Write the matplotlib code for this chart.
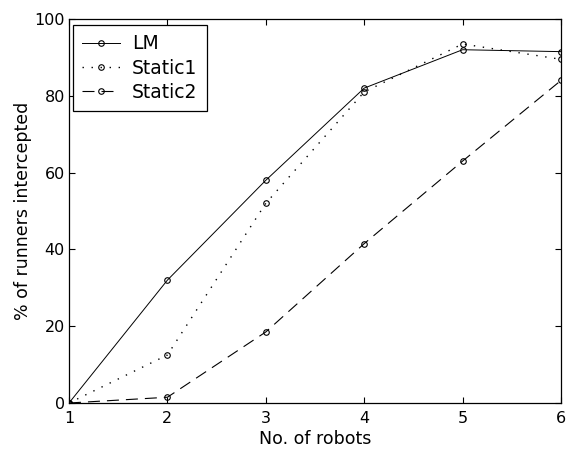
import matplotlib
matplotlib.use("Agg")
import matplotlib.pyplot as plt

plt.rcParams['font.family'] = ['DejaVu Sans']
plt.rcParams['font.size'] = 12.5

robots = [1, 2, 3, 4, 5, 6]
lm = [0, 32, 58, 82, 92, 91.5]
static1 = [0, 12.5, 52, 81, 93.5, 89.5]
static2 = [0, 1.5, 18.5, 41.5, 63, 84]

fig = plt.figure(figsize=(5.67, 4.54), dpi=100)
# axes box in figure fractions (left, bottom, width, height)
ax = fig.add_axes([69 / 567, 51 / 454, 492 / 567, 384 / 454])

mk = dict(marker='o', markersize=4, markerfacecolor='none', markeredgecolor='black', markeredgewidth=0.8)
ax.plot(robots, lm, '-', color='black', linewidth=0.7, label='LM', **mk)
ax.plot(robots, static1, color='black', linewidth=1.0, linestyle=(0, (1, 5.5)), label='Static1', **mk)
ax.plot(robots, static2, color='black', linewidth=0.8, linestyle=(0, (10.8, 6.3)), label='Static2', **mk)

ax.set_xlim(1, 6)
ax.set_ylim(0, 100)
ax.set_xticks(robots)
ax.set_yticks([0, 20, 40, 60, 80, 100])
ax.tick_params(direction='in', top=True, right=True, length=4, width=0.8, labelsize=11.5)
ax.tick_params(axis='x', pad=6)
ax.tick_params(axis='y', pad=3)
for s in ax.spines.values():
    s.set_linewidth(0.9)

ax.set_xlabel('No. of robots', labelpad=3)
ax.set_ylabel('% of runners intercepted', labelpad=2)

leg = ax.legend(loc='upper left', bbox_to_anchor=(4 / 492, 1 - 6 / 384), borderaxespad=0,
                fancybox=False, edgecolor='black', framealpha=1, fontsize=13.5,
                handlelength=2.0, handletextpad=0.64, labelspacing=0.28, borderpad=0.5)
leg.get_frame().set_linewidth(0.9)

fig.savefig('out.png', dpi=100)
